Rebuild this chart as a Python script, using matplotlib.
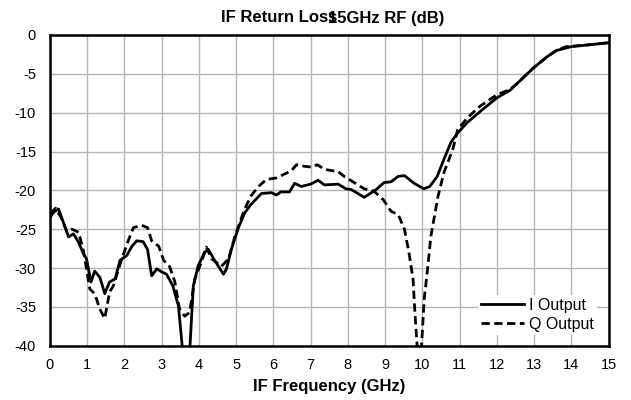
import matplotlib
matplotlib.use("Agg")
import matplotlib.pyplot as plt

# ---- data ----
f_I = [0.0, 0.1, 0.23, 0.35, 0.5, 0.63, 0.77, 0.9, 0.98, 1.1, 1.2, 1.34, 1.47, 1.6, 1.75, 1.88,
       2.06, 2.2, 2.33, 2.5, 2.62, 2.73, 2.87, 3.0, 3.13, 3.3, 3.45, 3.55, 3.65, 3.76, 3.85,
       3.98, 4.15, 4.25, 4.42, 4.66, 4.74, 4.87, 5.06, 5.23, 5.4, 5.68, 5.95, 6.08, 6.2, 6.43,
       6.57, 6.75, 7.0, 7.2, 7.37, 7.74, 7.95, 8.09, 8.3, 8.44, 8.57, 8.76, 8.97, 9.16, 9.35,
       9.52, 9.78, 10.04, 10.2, 10.4, 10.58, 10.77, 10.95, 11.2, 11.54, 12.0, 12.36, 12.6,
       12.97, 13.35, 13.6, 14.0, 14.4, 15.0]
db_I = [-23.5, -22.8, -22.4, -24.0, -26.0, -25.6, -26.7, -28.2, -28.8, -31.8, -30.4, -31.2,
        -33.3, -31.8, -31.4, -29.0, -28.4, -27.2, -26.5, -26.6, -27.6, -31.0, -30.1, -30.5,
        -30.8, -32.3, -34.9, -40.0, -44.0, -40.0, -32.3, -29.7, -28.0, -27.6, -29.0, -30.8,
        -30.1, -27.6, -24.8, -22.9, -21.8, -20.4, -20.3, -20.6, -20.2, -20.2, -19.1, -19.5,
        -19.2, -18.7, -19.3, -19.2, -19.8, -19.9, -20.5, -20.9, -20.5, -19.9, -19.0, -18.9,
        -18.2, -18.1, -19.1, -19.8, -19.5, -18.2, -16.0, -13.8, -12.6, -11.3, -9.9, -8.1,
        -7.1, -6.0, -4.3, -2.8, -2.0, -1.5, -1.3, -1.0]

f_Q = [0.0, 0.15, 0.3, 0.45, 0.59, 0.77, 0.9, 1.07, 1.2, 1.34, 1.47, 1.6, 1.7, 1.93, 2.1, 2.24,
       2.46, 2.62, 2.73, 2.92, 3.05, 3.21, 3.35, 3.48, 3.62, 3.75, 3.89, 4.07, 4.2, 4.34, 4.6,
       4.8, 4.96, 5.1, 5.23, 5.4, 5.6, 5.81, 6.08, 6.3, 6.48, 6.62, 6.83, 7.02, 7.18, 7.37,
       7.74, 7.9, 8.17, 8.44, 8.7, 8.95, 9.16, 9.35, 9.52, 9.64, 9.75, 9.8, 9.86, 9.92, 9.99,
       10.05, 10.15, 10.23, 10.42, 10.58, 10.82, 10.95, 11.2, 11.54, 12.0, 12.36, 12.6,
       12.97, 13.35, 13.6, 13.86, 14.4, 15.0]
db_Q = [-23.0, -22.3, -23.5, -25.3, -25.0, -25.4, -27.8, -32.7, -33.3, -35.3, -36.5, -33.1,
        -32.3, -28.8, -26.5, -24.8, -24.5, -24.8, -26.5, -27.2, -29.0, -29.8, -31.7, -35.3,
        -36.2, -35.7, -31.4, -29.2, -27.3, -28.8, -29.8, -28.8, -26.0, -24.1, -22.4, -20.7,
        -19.5, -18.6, -18.4, -17.9, -17.5, -16.7, -16.9, -17.0, -16.7, -17.3, -17.6, -18.2,
        -19.0, -19.8, -20.1, -21.2, -22.7, -23.1, -25.0, -28.0, -31.4, -35.7, -40.0, -45.0,
        -39.0, -34.0, -29.7, -25.9, -20.8, -17.7, -14.7, -12.2, -10.7, -9.2, -7.7, -7.0, -6.0,
        -4.3, -2.8, -2.0, -1.5, -1.3, -1.0]

x_ticks = list(range(0, 16))
y_ticks = [0, -5, -10, -15, -20, -25, -30, -35, -40]
series_names = ["I Output", "Q Output"]
title_part1 = "IF Return Loss"
title_part2 = "15GHz RF (dB)"

plt.rcParams['font.family'] = ['Liberation Sans', 'DejaVu Sans']

W, H = 631, 400
fig = plt.figure(figsize=(W / 100, H / 100), dpi=100)
ax = fig.add_axes([50 / W, (H - 345.7) / H, 558.5 / W, 310.7 / H])

ax.plot(f_I, db_I, color='black', lw=2.0, label=series_names[0])
ax.plot(f_Q, db_Q, color='black', lw=2.0, ls=(0, (3.0, 1.6)), label=series_names[1])

ax.set_xlim(0, 15)
ax.set_ylim(-40, 0)
ax.set_xticks(x_ticks)
ax.set_yticks(y_ticks)
ax.set_yticklabels([str(v) for v in y_ticks])
ax.grid(True, color='#b4b4b4', lw=1.0)
ax.set_axisbelow(True)
ax.tick_params(length=0, labelsize=10.5)
ax.tick_params(axis='x', pad=9)
ax.tick_params(axis='y', pad=10)
for s in ax.spines.values():
    s.set_linewidth(1.8)
    s.set_color('black')

ax.set_xlabel("IF Frequency (GHz)", fontsize=12, fontweight='bold', labelpad=5)

# title (the reference has the final "s" of "Loss" overprinted by "15GHz")
renderer = fig.canvas.get_renderer()
ybase = 1 - 22.5 / H
t1 = fig.text(0, ybase, title_part1, ha='left', va='baseline', fontsize=12, fontweight='bold')
ts = fig.text(0, 0, "s", fontsize=12, fontweight='bold')
t2 = fig.text(0, ybase, title_part2, ha='left', va='baseline', fontsize=12, fontweight='bold')
w1 = t1.get_window_extent(renderer).width
wsb = ts.get_window_extent(renderer).width
w2 = t2.get_window_extent(renderer).width
ts.remove()
total = w1 - wsb + w2
x0 = 333 - total / 2
t1.set_x(x0 / W)
t2.set_x((x0 + w1 - wsb) / W)

leg = ax.legend(loc='lower right', bbox_to_anchor=(0.979, 0.034), fontsize=11.5,
                handlelength=2.7, handletextpad=0.3, labelspacing=0.25,
                frameon=True, fancybox=False, borderpad=0.2, borderaxespad=0.0)
leg.get_frame().set_edgecolor('none')
leg.get_frame().set_facecolor('white')
leg.get_frame().set_alpha(1.0)

fig.savefig("out.png", dpi=100)
